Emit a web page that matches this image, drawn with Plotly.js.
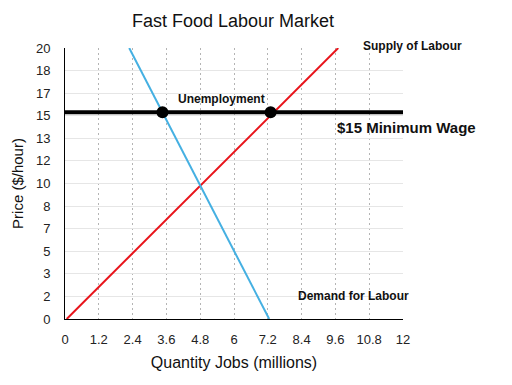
<!DOCTYPE html>
<html>
<head>
<meta charset="utf-8">
<script src="https://cdn.plot.ly/plotly-3.0.1.min.js"></script>
<style>html,body{margin:0;padding:0;background:#fff;}#chart{width:512px;height:385px;}</style>
</head>
<body>
<div id="chart"></div>
<script>
// Data
const supplyQty = [0.06, 9.7];
const supplyPrice = [0, 20];
const demandQty = [2.28, 7.25];
const demandPrice = [20, 0];
const wageQty = [0, 12];
const wagePrice = [15.25, 15.25];
const pointQty = [3.46, 7.3];
const pointPrice = [15.25, 15.25];
const xTickVals = [0, 1.2, 2.4, 3.6, 4.8, 6, 7.2, 8.4, 9.6, 10.8, 12];
const xTickText = ["0", "1.2", "2.4", "3.6", "4.8", "6", "7.2", "8.4", "9.6", "10.8", "12"];
const yTickVals = [0, 1.667, 3.333, 5, 6.667, 8.333, 10, 11.667, 13.333, 15, 16.667, 18.333, 20];
const yTickText = ["0", "2", "3", "5", "7", "8", "10", "12", "13", "15", "17", "18", "20"];

const font = "Liberation Sans, Arial, Helvetica, sans-serif";

const traces = [
  {x: supplyQty, y: supplyPrice, mode: "lines", line: {color: "#e8141b", width: 2}, hoverinfo: "skip"},
  {x: demandQty, y: demandPrice, mode: "lines", line: {color: "#45b0e2", width: 2}, hoverinfo: "skip"},
  {x: wageQty, y: wagePrice, mode: "lines", line: {color: "#000", width: 4}, hoverinfo: "skip"},
  {x: pointQty, y: pointPrice, mode: "markers", marker: {color: "#000", size: 12}, cliponaxis: false, hoverinfo: "skip"}
];

const bold = {family: font, size: 12, color: "#111", weight: "bold"};

const layout = {
  width: 512, height: 385,
  margin: {l: 65, r: 109, t: 48, b: 66},
  paper_bgcolor: "#fff", plot_bgcolor: "#fff",
  showlegend: false,
  font: {family: font, color: "#222"},
  title: {text: "Fast Food Labour Market", font: {family: font, size: 18, color: "#111"}, x: 0.455, xanchor: "center", y: 0.945, yanchor: "middle"},
  xaxis: {
    range: [0, 12], tickvals: xTickVals, ticktext: xTickText,
    showgrid: true, gridcolor: "#b4b4b4", griddash: "2px,3px", gridwidth: 1,
    showline: true, linecolor: "#000", linewidth: 1, zeroline: false,
    ticks: "", ticklabelstandoff: 8, tickfont: {family: font, size: 13, color: "#222"},
    title: {text: "Quantity Jobs (millions)", font: {family: font, size: 16, color: "#111"}, standoff: 11},
    fixedrange: true
  },
  yaxis: {
    range: [0, 20], tickvals: yTickVals, ticktext: yTickText,
    showgrid: true, gridcolor: "#e6e6e6", gridwidth: 1,
    showline: true, linecolor: "#000", linewidth: 1, zeroline: false,
    ticks: "", ticklabelstandoff: 11, tickfont: {family: font, size: 13, color: "#222"},
    title: {text: "Price ($/hour)", font: {family: font, size: 15, color: "#111"}, standoff: 8},
    fixedrange: true
  },
  annotations: [
    {text: "Unemployment", x: 5.55, y: 16.2, xref: "x", yref: "y", showarrow: false, font: bold, xanchor: "center", yanchor: "middle"},
    {text: "Supply of Labour", x: 10.5, y: 1.006, xref: "x", yref: "paper", showarrow: false, font: bold, xanchor: "left", yanchor: "middle"},
    {text: "$15 Minimum Wage", x: 9.6, y: 14.1, xref: "x", yref: "y", showarrow: false, font: {family: font, size: 15, color: "#111", weight: "bold"}, xanchor: "left", yanchor: "middle"},
    {text: "Demand for Labour", x: 8.2, y: 1.7, xref: "x", yref: "y", showarrow: false, font: bold, xanchor: "left", yanchor: "middle"}
  ]
};

Plotly.newPlot("chart", traces, layout, {displayModeBar: false, staticPlot: true});
</script>
</body>
</html>
